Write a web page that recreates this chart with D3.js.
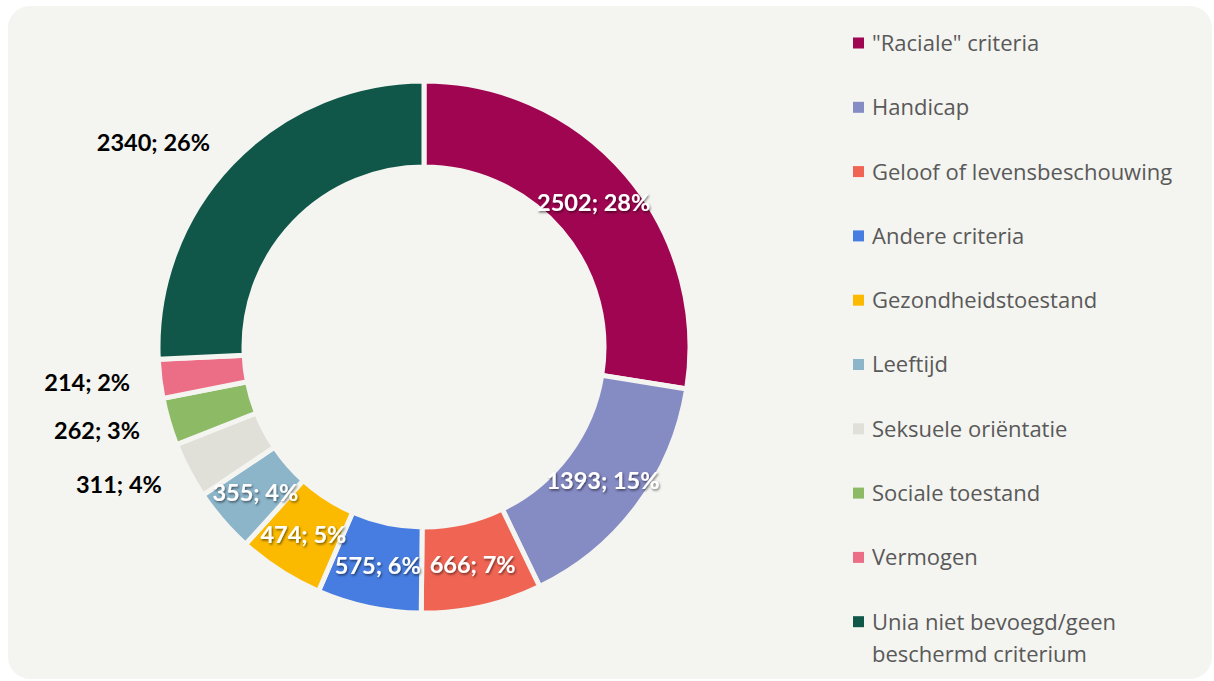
<!DOCTYPE html>
<html>
<head>
<meta charset="utf-8">
<script src="https://cdn.jsdelivr.net/npm/d3@7"></script>
<style>
  html, body { margin: 0; padding: 0; background: #ffffff; }
  svg { display: block; }
</style>
</head>
<body>
<div id="chart"></div>
<script>
const categories = [
  '"Raciale" criteria',
  "Handicap",
  "Geloof of levensbeschouwing",
  "Andere criteria",
  "Gezondheidstoestand",
  "Leeftijd",
  "Seksuele oriëntatie",
  "Sociale toestand",
  "Vermogen",
  "Unia niet bevoegd/geen beschermd criterium"
];
const values = [2502, 1393, 666, 575, 474, 355, 311, 262, 214, 2340];
const percents = [28, 15, 7, 6, 5, 4, 4, 3, 2, 26];
const colors = ["#a00551", "#858bc3", "#f06453", "#477de0", "#fbba00",
                "#8cb5ca", "#e0e0d8", "#8dba65", "#ec6d86", "#10574a"];
// labels drawn outside the ring (small slices + last one)
const outside = [false, false, false, false, false, false, true, true, true, true];
const legendLines = [
  ['"Raciale" criteria'], ["Handicap"], ["Geloof of levensbeschouwing"],
  ["Andere criteria"], ["Gezondheidstoestand"], ["Leeftijd"],
  ["Seksuele oriëntatie"], ["Sociale toestand"], ["Vermogen"],
  ["Unia niet bevoegd/geen", "beschermd criterium"]
];

const width = 1214, height = 681;
const bg = "#f4f4f0";
const cx = 424, cy = 347;
const outerR = 266, innerR = 180;

const svg = d3.select("#chart").append("svg")
  .attr("width", width)
  .attr("height", height)
  .style("font-family", "Lato, 'Open Sans', sans-serif");

// text shadow for the white labels
const defs = svg.append("defs");
const f = defs.append("filter").attr("id", "shadow")
  .attr("x", "-20%").attr("y", "-40%").attr("width", "140%").attr("height", "180%");
f.append("feDropShadow").attr("dx", 1).attr("dy", 1.5).attr("stdDeviation", 1.2)
  .attr("flood-color", "#000").attr("flood-opacity", 0.55);

// card
svg.append("rect")
  .attr("x", 8).attr("y", 6)
  .attr("width", 1204).attr("height", 673)
  .attr("rx", 22)
  .attr("fill", bg);

const data = categories.map((c, i) => ({ name: c, value: values[i], pct: percents[i], i }));

const pie = d3.pie().value(d => d.value).sort(null);
const arcs = pie(data);

const arc = d3.arc().innerRadius(innerR).outerRadius(outerR);
const labelArc = d3.arc().innerRadius(296).outerRadius(296);

const g = svg.append("g").attr("transform", `translate(${cx},${cy})`);

g.selectAll("path")
  .data(arcs)
  .join("path")
  .attr("d", arc)
  .attr("fill", d => colors[d.data.i])
  .attr("stroke", bg)
  .attr("stroke-width", 5)
  .attr("stroke-linejoin", "miter");

// data labels
g.selectAll("text.lbl")
  .data(arcs)
  .join("text")
  .attr("class", "lbl")
  .attr("transform", d => {
    const p = outside[d.data.i] ? labelArc.centroid(d) : arc.centroid(d);
    return `translate(${p[0]},${p[1]})`;
  })
  .attr("text-anchor", d => outside[d.data.i] ? "end" : "middle")
  .attr("dy", "0.36em")
  .attr("font-size", 23.5)
  .attr("font-weight", 700)
  .attr("fill", d => outside[d.data.i] ? "#000" : "#fff")
  .attr("filter", d => outside[d.data.i] ? null : "url(#shadow)")
  .text(d => `${d.data.value}; ${d.data.pct}%`);

// legend
const legend = svg.append("g").attr("transform", "translate(853,43)");
const rowH = 64.3;
const item = legend.selectAll("g")
  .data(legendLines)
  .join("g")
  .attr("transform", (d, i) => `translate(0,${i * rowH})`);

item.append("rect")
  .attr("x", 0).attr("y", -5.5)
  .attr("width", 11).attr("height", 11)
  .attr("fill", (d, i) => colors[i]);

item.each(function (lines) {
  const t = d3.select(this).append("text")
    .attr("x", 19)
    .attr("y", 0)
    .attr("font-family", "'Open Sans', sans-serif")
    .attr("font-size", 22)
    .attr("fill", "#595959");
  lines.forEach((l, k) => {
    t.append("tspan").attr("x", 19).attr("dy", k === 0 ? "0.36em" : 32).text(l);
  });
});
</script>
</body>
</html>
